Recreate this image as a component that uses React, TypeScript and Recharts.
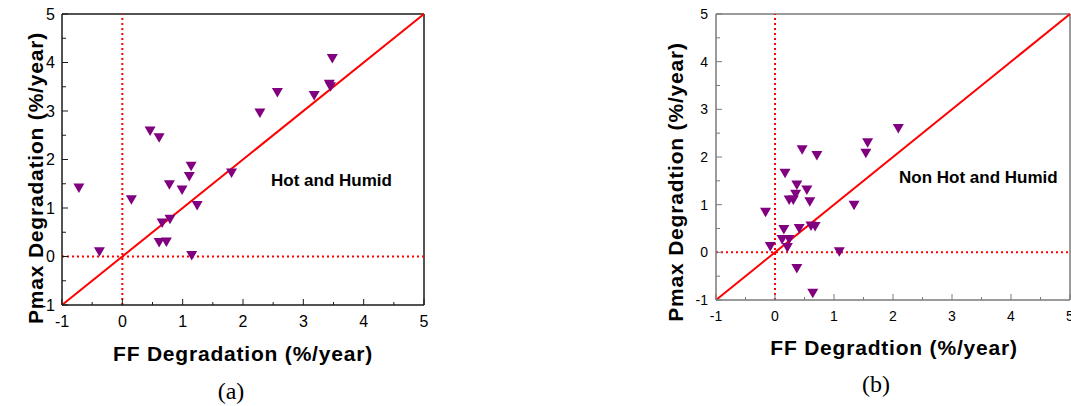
import React from 'react';
import {
  ScatterChart, Scatter, XAxis, YAxis, ReferenceLine,
} from 'recharts';

// panel (a): hot and humid sites, FF degradation vs Pmax degradation (%/year)
const hotFF = [-0.72, -0.38, 0.15, 0.46, 0.61, 1.14, 1.11, 0.78, 0.99, 1.24, 0.66, 0.79, 0.61, 0.73, 1.15, 1.81, 2.28, 2.57, 3.18, 3.43, 3.45, 3.48];
const hotPmax = [1.41, 0.10, 1.17, 2.59, 2.45, 1.86, 1.65, 1.48, 1.37, 1.05, 0.69, 0.77, 0.29, 0.30, 0.02, 1.72, 2.96, 3.38, 3.32, 3.55, 3.50, 4.08];

// panel (b): non hot and humid sites
const nonFF = [-0.16, -0.08, 0.17, 0.15, 0.12, 0.24, 0.21, 0.46, 0.71, 0.37, 0.35, 0.24, 0.31, 0.54, 0.59, 0.41, 0.61, 0.68, 0.37, 0.64, 1.09, 1.34, 1.54, 1.57, 2.09];
const nonPmax = [0.84, 0.12, 1.66, 0.48, 0.27, 0.27, 0.10, 2.15, 2.03, 1.41, 1.22, 1.10, 1.10, 1.31, 1.06, 0.50, 0.55, 0.54, -0.34, -0.86, 0.01, 0.99, 2.08, 2.30, 2.60];

const axisTicks = [-1, -0.5, 0, 0.5, 1, 1.5, 2, 2.5, 3, 3.5, 4, 4.5, 5];
const axisDomain = [-1, 5];
const diagonal = [{ x: -1, y: -1 }, { x: 5, y: 5 }];

const hotData = hotFF.map((x, i) => ({ x, y: hotPmax[i] }));
const nonData = nonFF.map((x, i) => ({ x, y: nonPmax[i] }));

const SANS = 'Arial, "Liberation Sans", Helvetica, sans-serif';
const SERIF = '"Times New Roman", "Liberation Serif", serif';
const RED = '#ff0000';
const PURPLE = '#800080';

const TriangleDown = (props: any) => {
  const { cx, cy } = props;
  if (cx == null || cy == null) return null;
  return (
    <polygon
      points={`${cx - 5.5},${cy - 4.5} ${cx + 5.5},${cy - 4.5} ${cx},${cy + 5}`}
      fill={PURPLE}
    />
  );
};

const makeXTick = (fontSize: number, color: string, dy: number) => (props: any) => {
  const { x, y, payload } = props;
  const v = payload.value;
  const major = Number.isInteger(v);
  return (
    <g>
      <line x1={x} y1={y} x2={x} y2={y - (major ? 6 : 3)} stroke={color} strokeWidth={1} />
      {major && (
        <text x={x} y={y + dy} textAnchor="middle" fontSize={fontSize} fontFamily={SANS} fill="#000">
          {v}
        </text>
      )}
    </g>
  );
};

const makeYTick = (fontSize: number, color: string, gap: number) => (props: any) => {
  const { x, y, payload } = props;
  const v = payload.value;
  const major = Number.isInteger(v);
  return (
    <g>
      <line x1={x} y1={y} x2={x + (major ? 6 : 4)} y2={y} stroke={color} strokeWidth={1} />
      {major && (
        <text x={x - gap} y={y + fontSize * 0.36} textAnchor="end" fontSize={fontSize} fontFamily={SANS} fill="#000">
          {v}
        </text>
      )}
    </g>
  );
};

interface PanelProps {
  data: { x: number; y: number }[];
  left: number;
  width: number;
  margin: { top: number; left: number; right: number; bottom: number };
  frame: string;
  tickFont: number;
  xDy: number;
  yGap: number;
}

const Panel = ({ data, left, width, margin, frame, tickFont, xDy, yGap }: PanelProps) => (
  <div style={{ position: 'absolute', left, top: 0 }}>
    <ScatterChart width={width} height={406} margin={margin}>
      <XAxis
        type="number"
        dataKey="x"
        domain={axisDomain}
        ticks={axisTicks}
        interval={0}
        height={30}
        tickSize={0}
        tickMargin={0}
        tickLine={false}
        axisLine={{ stroke: frame, strokeWidth: 1.5 }}
        tick={makeXTick(tickFont, frame, xDy)}
        allowDataOverflow
      />
      <YAxis
        type="number"
        dataKey="y"
        domain={axisDomain}
        ticks={axisTicks}
        interval={0}
        width={30}
        tickSize={0}
        tickMargin={0}
        tickLine={false}
        axisLine={{ stroke: frame, strokeWidth: 1.5 }}
        tick={makeYTick(tickFont, frame, yGap)}
        allowDataOverflow
      />
      <ReferenceLine y={5} stroke={frame} strokeWidth={1.5} />
      <ReferenceLine x={5} stroke={frame} strokeWidth={1.5} />
      <ReferenceLine x={0} stroke={RED} strokeWidth={2} strokeDasharray="2 3" />
      <ReferenceLine y={0} stroke={RED} strokeWidth={2} strokeDasharray="2 3" />
      <ReferenceLine segment={diagonal} stroke={RED} strokeWidth={2} />
      <Scatter data={data} shape={TriangleDown} isAnimationActive={false} />
    </ScatterChart>
  </div>
);

const titleStyle = {
  fontFamily: SANS,
  fontWeight: 700,
  fontSize: 21,
  letterSpacing: 0.8,
};

export default function App() {
  return (
    <div style={{ position: 'absolute', left: 0, top: 0, width: 1071, height: 406, background: '#fff', overflow: 'hidden' }}>
      <Panel
        data={hotData}
        left={0}
        width={440}
        margin={{ top: 14, left: 32, right: 16, bottom: 71 }}
        frame="#1a1a1a"
        tickFont={16}
        xDy={22}
        yGap={7}
      />
      <Panel
        data={nonData}
        left={650}
        width={421}
        margin={{ top: 14, left: 36, right: 1, bottom: 76 }}
        frame="#7a7a7a"
        tickFont={14}
        xDy={21}
        yGap={8}
      />
      <svg width={1071} height={406} style={{ position: 'absolute', left: 0, top: 0, pointerEvents: 'none' }}>
        <text x={271} y={186} fontFamily={SANS} fontWeight={700} fontSize={17}>Hot and Humid</text>
        <text x={899} y={183} fontFamily={SANS} fontWeight={700} fontSize={17}>Non Hot and Humid</text>

        <text x={243} y={361} textAnchor="middle" style={titleStyle}>FF Degradation (%/year)</text>
        <text transform="translate(43,178) rotate(-90)" textAnchor="middle" style={titleStyle}>Pmax Degradation (%/year)</text>
        <text x={231} y={399} textAnchor="middle" fontFamily={SERIF} fontSize={24}>(a)</text>

        <text x={894} y={355} textAnchor="middle" style={titleStyle}>FF Degradtion (%/year)</text>
        <text transform="translate(683,182) rotate(-90)" textAnchor="middle" style={titleStyle}>Pmax Degradtion (%/year)</text>
        <text x={876} y={392} textAnchor="middle" fontFamily={SERIF} fontSize={24}>(b)</text>
      </svg>
    </div>
  );
}
